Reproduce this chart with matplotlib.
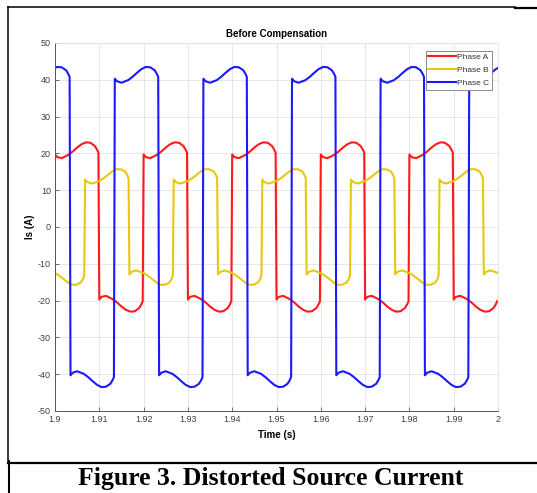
import numpy as np
import matplotlib
matplotlib.use("Agg")
import matplotlib.pyplot as plt
from matplotlib.lines import Line2D

plt.rcParams["axes.unicode_minus"] = False

# ---------------- data ----------------
# sample offsets inside each half-cycle (ms)
TAU_MS = [0, 0.5, 1.5, 3, 4, 5, 6, 7, 8, 9, 9.5, 9.8]

# half-cycle start times (s)
A_EDGES = [1.890, 1.900, 1.910, 1.920, 1.930, 1.940, 1.950, 1.960, 1.970, 1.980, 1.990]
B_EDGES = [1.8968, 1.9068, 1.9168, 1.9268, 1.9368, 1.9468, 1.9568, 1.9668, 1.9768, 1.9868, 1.9968]
C_EDGES = [1.8935, 1.9035, 1.9135, 1.9235, 1.9335, 1.9435, 1.9535, 1.9635, 1.9735, 1.9835, 1.9935]

# current values (A) for every half-cycle
PHASE_A = [
    [-19.7, -19.0, -18.7, -19.6, -20.5, -21.6, -22.5, -23.0, -22.9, -22.0, -21.0, -20.2],
    [19.7, 19.0, 18.7, 19.6, 20.5, 21.6, 22.5, 23.0, 22.9, 22.0, 21.0, 20.2],
    [-19.7, -19.0, -18.7, -19.6, -20.5, -21.6, -22.5, -23.0, -22.9, -22.0, -21.0, -20.2],
    [19.7, 19.0, 18.7, 19.6, 20.5, 21.6, 22.5, 23.0, 22.9, 22.0, 21.0, 20.2],
    [-19.7, -19.0, -18.7, -19.6, -20.5, -21.6, -22.5, -23.0, -22.9, -22.0, -21.0, -20.2],
    [19.7, 19.0, 18.7, 19.6, 20.5, 21.6, 22.5, 23.0, 22.9, 22.0, 21.0, 20.2],
    [-19.7, -19.0, -18.7, -19.6, -20.5, -21.6, -22.5, -23.0, -22.9, -22.0, -21.0, -20.2],
    [19.7, 19.0, 18.7, 19.6, 20.5, 21.6, 22.5, 23.0, 22.9, 22.0, 21.0, 20.2],
    [-19.7, -19.0, -18.7, -19.6, -20.5, -21.6, -22.5, -23.0, -22.9, -22.0, -21.0, -20.2],
    [19.7, 19.0, 18.7, 19.6, 20.5, 21.6, 22.5, 23.0, 22.9, 22.0, 21.0, 20.2],
    [-19.7, -19.0, -18.7, -19.6, -20.5, -21.6, -22.5, -23.0, -22.9, -22.0, -21.0, -20.2],
]
PHASE_B = [
    [-12.9, -12.2, -11.8, -12.4, -13.1, -14.0, -15.0, -15.7, -15.7, -15.1, -14.2, -13.2],
    [12.9, 12.2, 11.8, 12.4, 13.1, 14.0, 15.0, 15.7, 15.7, 15.1, 14.2, 13.2],
    [-12.9, -12.2, -11.8, -12.4, -13.1, -14.0, -15.0, -15.7, -15.7, -15.1, -14.2, -13.2],
    [12.9, 12.2, 11.8, 12.4, 13.1, 14.0, 15.0, 15.7, 15.7, 15.1, 14.2, 13.2],
    [-12.9, -12.2, -11.8, -12.4, -13.1, -14.0, -15.0, -15.7, -15.7, -15.1, -14.2, -13.2],
    [12.9, 12.2, 11.8, 12.4, 13.1, 14.0, 15.0, 15.7, 15.7, 15.1, 14.2, 13.2],
    [-12.9, -12.2, -11.8, -12.4, -13.1, -14.0, -15.0, -15.7, -15.7, -15.1, -14.2, -13.2],
    [12.9, 12.2, 11.8, 12.4, 13.1, 14.0, 15.0, 15.7, 15.7, 15.1, 14.2, 13.2],
    [-12.9, -12.2, -11.8, -12.4, -13.1, -14.0, -15.0, -15.7, -15.7, -15.1, -14.2, -13.2],
    [12.9, 12.2, 11.8, 12.4, 13.1, 14.0, 15.0, 15.7, 15.7, 15.1, 14.2, 13.2],
    [-12.9, -12.2, -11.8, -12.4, -13.1, -14.0, -15.0, -15.7, -15.7, -15.1, -14.2, -13.2],
]
PHASE_C = [
    [40.3, 39.6, 39.2, 39.9, 40.8, 41.9, 42.9, 43.5, 43.4, 42.6, 41.6, 40.8],
    [-40.3, -39.6, -39.2, -39.9, -40.8, -41.9, -42.9, -43.5, -43.4, -42.6, -41.6, -40.8],
    [40.3, 39.6, 39.2, 39.9, 40.8, 41.9, 42.9, 43.5, 43.4, 42.6, 41.6, 40.8],
    [-40.3, -39.6, -39.2, -39.9, -40.8, -41.9, -42.9, -43.5, -43.4, -42.6, -41.6, -40.8],
    [40.3, 39.6, 39.2, 39.9, 40.8, 41.9, 42.9, 43.5, 43.4, 42.6, 41.6, 40.8],
    [-40.3, -39.6, -39.2, -39.9, -40.8, -41.9, -42.9, -43.5, -43.4, -42.6, -41.6, -40.8],
    [40.3, 39.6, 39.2, 39.9, 40.8, 41.9, 42.9, 43.5, 43.4, 42.6, 41.6, 40.8],
    [-40.3, -39.6, -39.2, -39.9, -40.8, -41.9, -42.9, -43.5, -43.4, -42.6, -41.6, -40.8],
    [40.3, 39.6, 39.2, 39.9, 40.8, 41.9, 42.9, 43.5, 43.4, 42.6, 41.6, 40.8],
    [-40.3, -39.6, -39.2, -39.9, -40.8, -41.9, -42.9, -43.5, -43.4, -42.6, -41.6, -40.8],
    [40.3, 39.6, 39.2, 39.9, 40.8, 41.9, 42.9, 43.5, 43.4, 42.6, 41.6, 40.8],
]

SERIES = ["Phase A", "Phase B", "Phase C"]
X_TICKS = [1.90, 1.91, 1.92, 1.93, 1.94, 1.95, 1.96, 1.97, 1.98, 1.99, 2.00]
X_TICK_LABELS = ["1.9", "1.91", "1.92", "1.93", "1.94", "1.95", "1.96", "1.97", "1.98", "1.99", "2"]
Y_TICKS = [-50, -40, -30, -20, -10, 0, 10, 20, 30, 40, 50]

# ---------------- figure ----------------
W, H = 537, 493
fig = plt.figure(figsize=(W / 100, H / 100), dpi=100)
fig.patch.set_facecolor("white")

ax = fig.add_axes([55 / W, 1 - 411 / H, (498 - 55) / W, (411 - 43) / H])

def build(edges, rows):
    tau = np.array(TAU_MS) / 1000.0
    t = (np.array(edges)[:, None] + tau[None, :]).ravel()
    v = np.array(rows).ravel()
    return t, v

colors = ["#FF1A1A", "#E8C80E", "#1A1AFF"]
for (edges, rows), name, col in zip(
        [(A_EDGES, PHASE_A), (B_EDGES, PHASE_B), (C_EDGES, PHASE_C)], SERIES, colors):
    t, v = build(edges, rows)
    ax.plot(t, v, color=col, lw=1.5, label=name, solid_joinstyle="round")

ax.set_xlim(1.9, 2.0)
ax.set_ylim(-50, 50)
ax.set_xticks(X_TICKS)
ax.set_xticklabels(X_TICK_LABELS)
ax.set_yticks(Y_TICKS)

tick_col = "#404040"
font = "Liberation Sans"
for lab in ax.get_xticklabels() + ax.get_yticklabels():
    lab.set_fontfamily(font)
    lab.set_fontsize(6.5)
    lab.set_color(tick_col)
ax.tick_params(direction="in", length=3, width=0.6, color="#555555", pad=3)
ax.grid(True, color="#e3e3e3", lw=0.6)
ax.set_axisbelow(True)
for s in ["left", "bottom"]:
    ax.spines[s].set_color("#555555")
    ax.spines[s].set_linewidth(0.7)
for s in ["top", "right"]:
    ax.spines[s].set_color("#e3e3e3")
    ax.spines[s].set_linewidth(0.6)

ax.set_title("Before Compensation", fontfamily=font, fontweight="bold", fontsize=7, pad=4)
ax.set_xlabel("Time (s)", fontfamily=font, fontweight="bold", fontsize=7, labelpad=4)
ax.set_ylabel("Is (A)", fontfamily=font, fontweight="bold", fontsize=7, labelpad=2)

leg = ax.legend(loc="upper right", bbox_to_anchor=(492 / W, 1 - 50.5 / H),
                bbox_transform=fig.transFigure, prop={"family": font, "size": 6},
                frameon=True, fancybox=False, framealpha=1, edgecolor="#777777",
                borderpad=0.3, labelspacing=0.65, handlelength=3.3, handletextpad=0.2,
                borderaxespad=0)
leg.get_frame().set_linewidth(0.6)
for txt in leg.get_texts():
    txt.set_color("#333333")

# page frame lines and caption
def fl(x0, y0, x1, y1, lw):
    fig.add_artist(Line2D([x0 / W, x1 / W], [1 - y0 / H, 1 - y1 / H],
                          color="black", lw=lw, transform=fig.transFigure))

fl(8, 7.3, 515, 7.3, 1.1)
fl(515, 7.8, 537, 7.8, 1.6)
fl(8, 7, 8, 461, 1.1)
fl(9, 461, 9, 493, 1.5)
fl(8, 463.3, 537, 463.3, 1.6)

fig.text(271 / W, 1 - 478.5 / H, "Figure 3. Distorted Source Current",
         fontfamily="Liberation Serif", fontweight="bold", fontsize=18.5,
         ha="center", va="center")

fig.savefig("out.png", dpi=100, facecolor="white")
